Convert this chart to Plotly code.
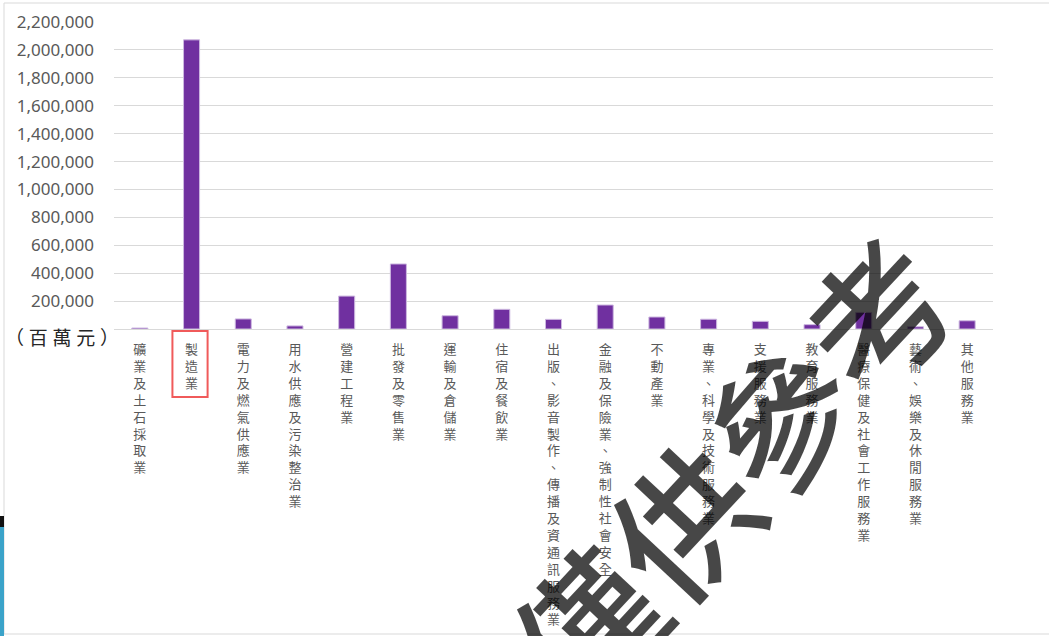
import plotly.graph_objects as go

# 各行業別數值（百萬元）
industrias = [
    "礦業及土石採取業", "製造業", "電力及燃氣供應業", "用水供應及污染整治業",
    "營建工程業", "批發及零售業", "運輸及倉儲業", "住宿及餐飲業",
    "出版、影音製作、傳播及資通訊服務業", "金融及保險業、強制性社會安全",
    "不動產業", "專業、科學及技術服務業", "支援服務業", "教育服務業",
    "醫療保健及社會工作服務業", "藝術、娛樂及休閒服務業", "其他服務業",
]
valores = [
    7000, 2072000, 72000, 22000,
    236000, 466000, 95000, 141000,
    69000, 172000,
    86000, 70000, 55000, 31000,
    119000, 16000, 59000,
]
y_ticks = list(range(200000, 2200001, 200000))

# geometría (px) del área del gráfico
W, H = 1049, 636
L, R, T, B = 114, 993, 22, 329


def px_x(x):
    return (x - L) / (R - L)


def px_y(y):
    return (B - y) / (B - T)


# etiquetas verticales: un carácter por línea
etiquetas = ["<br>".join(list(s)) for s in industrias]

fig = go.Figure(
    go.Bar(
        x=industrias,
        y=valores,
        marker=dict(color="#7030A0", line=dict(color="#CDB8E0", width=1)),
        hoverinfo="x+y",
    )
)

fig.update_layout(
    width=W,
    height=H,
    margin=dict(l=L, r=W - R, t=T, b=H - B),
    plot_bgcolor="white",
    paper_bgcolor="white",
    bargap=0.69,
    showlegend=False,
    xaxis=dict(
        tickmode="array",
        tickvals=industrias,
        ticktext=etiquetas,
        tickangle=0,
        tickfont=dict(family="Noto Sans CJK TC", size=13, color="#595959"),
        showgrid=False,
        showline=False,
        ticks="",
        ticklabelstandoff=11,
        automargin=False,
    ),
    yaxis=dict(
        range=[0, 2200000],
        tickvals=y_ticks,
        tickformat=",",
        tickfont=dict(family="Noto Sans", size=17, color="#595959"),
        gridcolor="#D9D9D9",
        gridwidth=1,
        zeroline=True,
        zerolinecolor="#D9D9D9",
        zerolinewidth=1,
        showline=False,
        ticks="",
        ticklabelstandoff=19,
        automargin=False,
    ),
)

# unidad
fig.add_annotation(
    text="（\u2005百\u2005萬\u2005元\u2005）",
    xref="paper", yref="paper",
    x=px_x(121), y=px_y(336),
    xanchor="right", yanchor="middle",
    showarrow=False,
    font=dict(family="Noto Sans CJK TC", size=19, color="#262626"),
)

# recuadro rojo sobre 製造業
fig.add_shape(
    type="rect",
    xref="x", yref="paper",
    x0=1 - 0.37, x1=1 + 0.31,
    y0=px_y(397), y1=px_y(331),
    line=dict(color="#F05A5A", width=2),
)

# marco del área
for x0, y0, x1, y1 in [(4, 3, W, 3), (4, 3, 4, 634), (4, 634, W, 634)]:
    fig.add_shape(
        type="line", xref="paper", yref="paper",
        x0=px_x(x0), y0=px_y(y0), x1=px_x(x1), y1=px_y(y1),
        line=dict(color="#D9D9D9", width=1),
    )

# decoración azul del fondo a la izquierda
fig.add_shape(
    type="rect", xref="paper", yref="paper",
    x0=px_x(-2), x1=px_x(4), y0=px_y(640), y1=px_y(516),
    fillcolor="#3BA3C9", line=dict(width=0), layer="above",
)
fig.add_shape(
    type="rect", xref="paper", yref="paper",
    x0=px_x(-2), x1=px_x(4), y0=px_y(527), y1=px_y(516),
    fillcolor="#111111", line=dict(width=0), layer="above",
)

# marca de agua
fig.add_annotation(
    text="僅供參考",
    xref="paper", yref="paper",
    x=px_x(728), y=px_y(467),
    xanchor="center", yanchor="middle",
    textangle=-47,
    showarrow=False,
    font=dict(family="Noto Sans CJK TC Medium, Noto Sans CJK TC", size=142,
              color="rgba(0,0,0,0.72)", weight=500),
)

fig.write_html(
    "out.html",
    config={"displayModeBar": False},
    post_script="document.body.style.margin='0';",
)
